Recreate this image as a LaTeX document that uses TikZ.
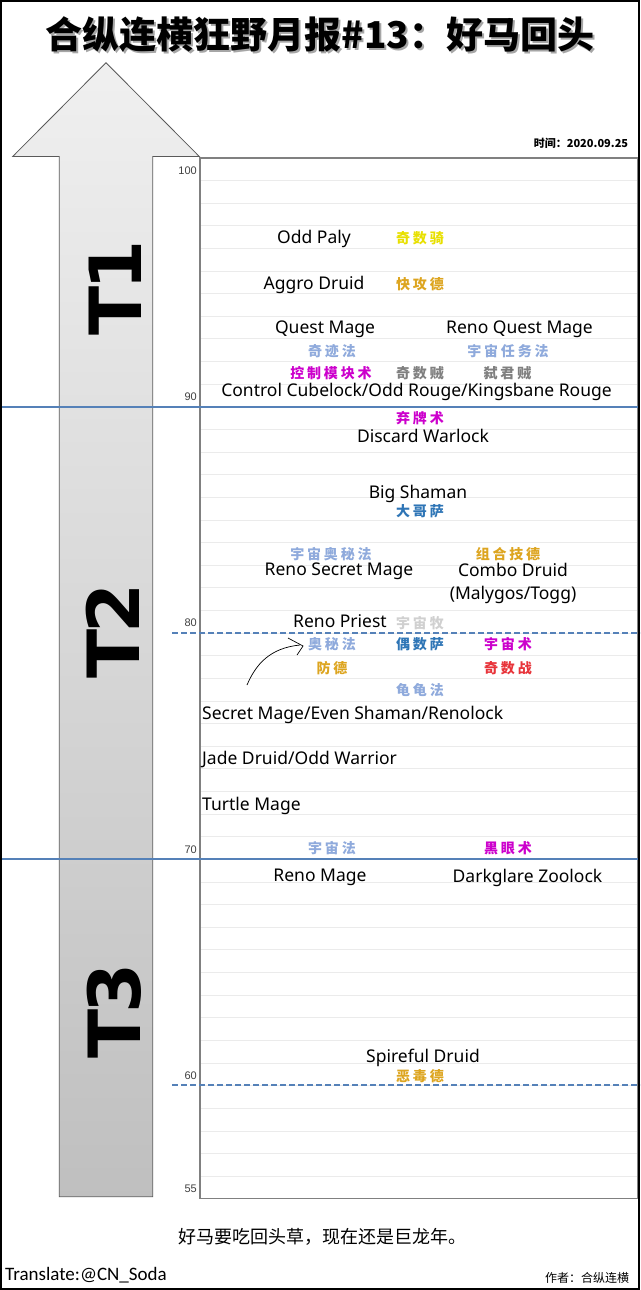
\documentclass[tikz,border=0pt]{standalone}
\usepackage{fontspec}
\usepackage{xcolor}
\usepackage{tikz}
\usetikzlibrary{positioning}

\newfontfamily\cjk{Noto Sans CJK SC}
\newfontfamily\deckfont{Noto Sans}
\newfontfamily\axisfont{Liberation Sans}
\newfontfamily\transfont{Carlito}
\newfontfamily\tierfont{DejaVu Sans}

\definecolor{lblue}{HTML}{8FAADC}
\definecolor{dblue}{HTML}{2E75B6}
\definecolor{mag}{HTML}{CC00CC}
\definecolor{gold}{HTML}{DDA520}
\definecolor{yel}{HTML}{E8E000}
\definecolor{mgray}{HTML}{808080}
\definecolor{pgray}{HTML}{D0D0D0}
\definecolor{rred}{HTML}{E8343A}
\definecolor{tierline}{HTML}{5581B8}
\definecolor{gridc}{HTML}{EBEBEB}

\tikzset{
  deck/.style={font=\deckfont\fontsize{17.5}{17.5}\selectfont, inner sep=0pt, yshift=-1.5pt},
  cn/.style={font=\cjk\bfseries\fontsize{14}{14}\selectfont\addfontfeature{LetterSpace=20}, inner sep=0pt, text=#1},
  axislab/.style={font=\axisfont\fontsize{11}{11}\selectfont, text=black!75, anchor=east, inner sep=0pt},
  tier/.style={font=\tierfont\bfseries\fontsize{72}{72}\selectfont, rotate=90, inner sep=0pt},
  tierrule/.style={tierline, line width=2pt},
}

\begin{document}
\begin{tikzpicture}[x=1pt, y=-1pt]
  \useasboundingbox (0,0) rectangle (640,1290);
  \fill[white] (0,0) rectangle (640,1290);

  % tier arrow
  \shade[top color=gray!12, bottom color=gray!50, draw=black!65, line width=0.8pt]
    (59.3,1196.7) -- (59.3,156.5) -- (12.7,156.5) -- (106,62.7)
    -- (199.3,156.5) -- (152.7,156.5) -- (152.7,1196.7) -- cycle;

  % plot area
  \foreach \v in {56,...,100}
    \draw[gridc, line width=0.7pt] (200,{406.7+(90-\v)*22.63}) -- (638,{406.7+(90-\v)*22.63});
  \draw[mgray, line width=1.5pt] (200,157.8) rectangle (638,1198.7);
  \foreach \v in {100,90,80,70,60,55}
    \node[axislab] at (197,{406.7+(90-\v)*22.63-10}) {\v};

  \draw[tierrule] (0,406.7) -- (640,406.7);
  \draw[tierrule] (0,859.3) -- (640,859.3);
  \draw[tierrule, dash pattern=on 6pt off 3pt] (172,632.6) -- (640,632.6);
  \draw[tierrule, dash pattern=on 6pt off 3pt] (172,1085.2) -- (640,1085.2);

  \node[tier] (t1) at (115,288) {T\kern-0.05em1};
  \node[tier] (t2) at (113,631) {T\kern-0.05em2};
  \node[tier] (t3) at (114,1011) {T\kern-0.05em3};

  % title and notes
  \node[font=\cjk\bfseries\fontsize{37}{37}\selectfont, text=black!35] at (322,37) {合纵连横狂野月报\#13：好马回头};
  \node[font=\cjk\bfseries\fontsize{37}{37}\selectfont] (title) at (320,35) {合纵连横狂野月报\#13：好马回头};
  \node[font=\cjk\bfseries\fontsize{11}{11}\selectfont, inner sep=0pt] (date) at (581,143) {时间：2020.09.25};
  \node[font=\cjk\fontsize{18}{18}\selectfont, inner sep=0pt] (motto) at (322,1237) {好马要吃回头草，现在还是巨龙年。};
  \node[font=\transfont\fontsize{19}{19}\selectfont, anchor=west, inner sep=0pt] (trans) at (5,1275) {Translate:@CN\_Soda};
  \node[font=\cjk\fontsize{12}{12}\selectfont, inner sep=0pt] (author) at (587,1278) {作者：合纵连横};

  % T1
  \node[deck] (oddpaly) at (314,237) {Odd Paly};
  \node[cn=yel] (oddpalycn) at (420,238) {奇数骑};
  \node[deck] (aggro) at (314,283) {Aggro Druid};
  \node[cn=gold] (aggrocn) at (420,284) {快攻德};
  \node[deck] (questmage) at (325,328) {Quest Mage};
  \node[deck] (renoquest) at (519.5,328) {Reno Quest Mage};
  \node[cn=lblue] (questmagecn) at (332,351) {奇迹法};
  \node[cn=lblue] (renoquestcn) at (508,351) {宇宙任务法};
  \node[cn=mag] (cubelockcn) at (331,373) {控制模块术};
  \node[cn=mgray] (oddroguecn) at (420,373) {奇数贼};
  \node[cn=mgray] (kingsbanecn) at (507.5,373) {弑君贼};
  \node[deck] (cubelock) at (416.5,390) {Control Cubelock/Odd Rouge/Kingsbane Rouge};

  % T2
  \node[cn=mag] (discardcn) at (420,418) {弃牌术};
  \node[deck] (discard) at (423,434) {Discard Warlock};
  \node[deck] (bigsham) at (418,492.5) {Big Shaman};
  \node[cn=dblue] (bigshamcn) at (420,511) {大哥萨};
  \node[cn=lblue] (renosecretcn) at (331,554) {宇宙奥秘法};
  \node[cn=gold] (combocn) at (508,554) {组合技德};
  \node[deck] (renosecret) at (339,570) {Reno Secret Mage};
  \node[deck, align=center] (combo) at (513,582) {Combo Druid\\[6pt](Malygos/Togg)};
  \node[deck] (renopriest) at (340,620) {Reno Priest};
  \node[cn=pgray] (renopriestcn) at (420,623) {宇宙牧};
  \node[cn=lblue] (secretcn) at (332,644) {奥秘法};
  \node[cn=dblue] (evenshamcn) at (420,644) {偶数萨};
  \node[cn=mag] (renolockcn) at (508,644) {宇宙术};
  \node[cn=gold] (jadecn) at (332,668) {防德};
  \node[cn=rred] (oddwarcn) at (508,668) {奇数战};
  \node[cn=lblue] (turtlecn) at (420,690) {龟龟法};
  \node[deck, anchor=west] (secretrow) at (202,713) {Secret Mage/Even Shaman/Renolock};
  \node[deck, anchor=west] (jaderow) at (202,758) {Jade Druid/Odd Warrior};
  \node[deck, anchor=west] (turtle) at (202,804) {Turtle Mage};
  \node[cn=lblue] (renomagecn) at (332,848) {宇宙法};
  \node[cn=mag] (darkglarecn) at (508,848) {黑眼术};

  % hand-drawn pointer
  \draw[black, line width=0.7pt] (247,685) .. controls (256,664) and (270,648) .. (300,645);
  \draw[black, line width=0.7pt] (288,638) -- (303,646) -- (297,655);

  % T3
  \node[deck] (renomage) at (320,876) {Reno Mage};
  \node[deck] (darkglare) at (527.5,876) {Darkglare Zoolock};
  \node[deck] (spireful) at (423,1056) {Spireful Druid};
  \node[cn=gold] (spirefulcn) at (420,1076) {恶毒德};

  \draw[black, line width=2pt] (1,1) rectangle (639,1289);
\end{tikzpicture}
\end{document}
